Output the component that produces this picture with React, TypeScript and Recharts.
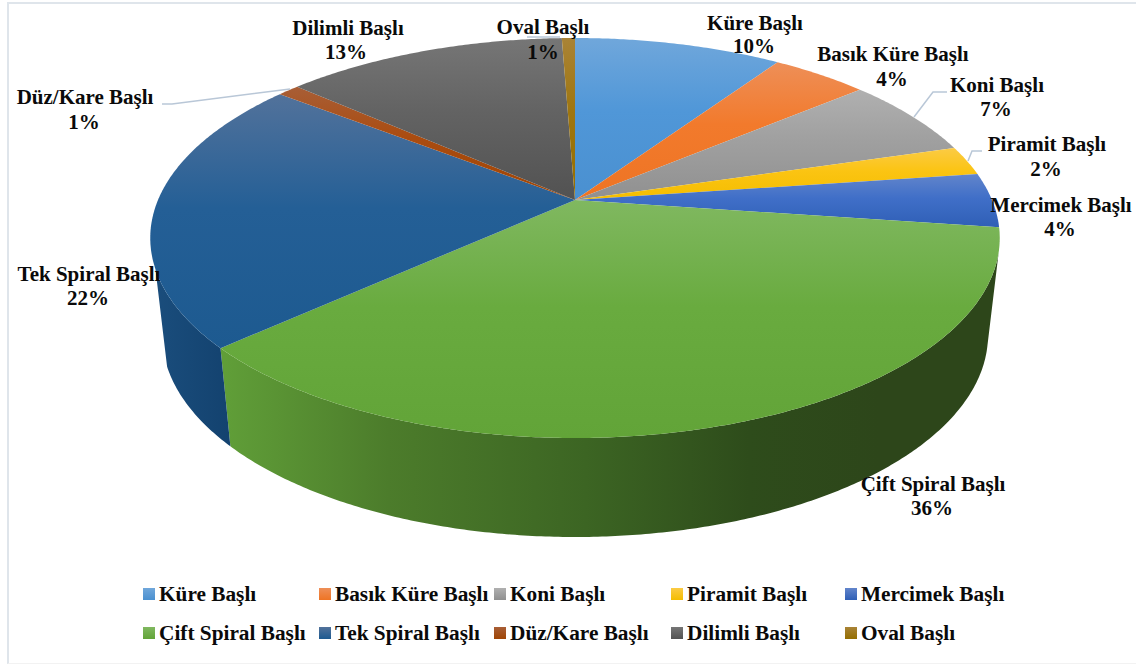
import React from "react";
import { PieChart, Pie, Legend } from "recharts";

const names = [
  "Küre Başlı",
  "Basık Küre Başlı",
  "Koni Başlı",
  "Piramit Başlı",
  "Mercimek Başlı",
  "Çift Spiral Başlı",
  "Tek Spiral Başlı",
  "Düz/Kare Başlı",
  "Dilimli Başlı",
  "Oval Başlı",
];
const values = [9.5, 4.4, 6.5, 2.4, 4.4, 36.1, 22.2, 1, 12.9, 0.6];

// light edge / body / low end of each slice's top face
const topColors = [
  ["#70a7db", "#5097d8", "#4a90d0"],
  ["#ee8f58", "#f27a2c", "#ee7424"],
  ["#b0b0b0", "#a0a0a0", "#909090"],
  ["#fbcb45", "#fbc412", "#f4bd00"],
  ["#6285cb", "#406fc8", "#2f5fb6"],
  ["#80b860", "#69ab3f", "#62a438"],
  ["#52729b", "#245f96", "#1d5a90"],
  ["#a85e36", "#aa4c10", "#a04504"],
  ["#767676", "#636363", "#525252"],
  ["#a98336", "#9f7610", "#946e00"],
];

const pieData = names.map((name, i) => ({ name, value: values[i] }));

// where each two line label sits: name x, name y, percent x, percent y
const labelSpots = [
  [755, 23, 754, 46],
  [893, 54, 892, 79],
  [997, 85, 996, 109],
  [1047, 144, 1046, 169],
  [1061, 205, 1060, 229],
  [933, 484, 932, 508],
  [89, 274, 88, 298],
  [85, 97, 84, 122],
  [348, 28, 346, 52],
  [543, 27, 543, 52],
];

const leaderLines = [
  "162,104 172,104 290,89",
  "947,92 933,92 914,117",
  "982,151 972,151 968,161",
  "527,37 560,37",
];

const legendCols = [143, 319, 494, 671, 845];
const legendRows = [588, 627];

const FONT = "'Liberation Serif', serif";
const CX = 575;
const CY = 200;
const RADIUS = 417;

// perspective squash of the flat pie circle
const TILT = -0.19;
const SQUASH = 0.4623;
// ellipse of the top rim and of the bottom rim
const TOP_RIM = { cy: 238, rx: 425, ry: 200 };
const LOW_RIM = { cy: 335, rx: 413, ry: 202 };

const project = (cx: number, cy: number, r: number, deg: number) => {
  const t = ((90 - deg) * Math.PI) / 180;
  const u = Math.sin(t);
  const v = -Math.cos(t);
  const w = 1 + TILT * v;
  return { x: cx + (r * u) / w, y: cy + (r * SQUASH * v) / w };
};

const SliceShape = (props: any) => {
  const { cx, cy, outerRadius, startAngle, endAngle, name } = props;
  const idx = names.indexOf(name);
  const rim: { x: number; y: number }[] = [];
  const steps = Math.max(2, Math.ceil(Math.abs(endAngle - startAngle) * 2));
  for (let s = 0; s <= steps; s++) {
    rim.push(project(cx, cy, outerRadius, startAngle + ((endAngle - startAngle) * s) / steps));
  }
  const top = `M${cx},${cy} ` + rim.map((p) => `L${p.x},${p.y}`).join(" ") + " Z";

  // side wall only on the front of the rim
  const front = rim
    .map((p) => ({
      ...p,
      e: Math.atan2((p.y - TOP_RIM.cy) / TOP_RIM.ry, (p.x - cx) / TOP_RIM.rx),
    }))
    .filter((p) => p.e > 0.05 && p.e < Math.PI - 0.15);
  let wall = "";
  if (front.length > 1) {
    const low = front
      .slice()
      .reverse()
      .map((p) => `L${cx + LOW_RIM.rx * Math.cos(p.e)},${LOW_RIM.cy + LOW_RIM.ry * Math.sin(p.e)}`);
    wall =
      "M" + front.map((p) => `${p.x},${p.y}`).join(" L") + " " + low.join(" ") + " Z";
  }

  return (
    <g>
      {wall && <path d={wall} fill={idx === 5 ? "url(#wallGreen)" : "url(#wallBlue)"} />}
      <path d={top} fill={`url(#top${idx})`} />
    </g>
  );
};

const SliceLabel = (props: any) => {
  const idx = names.indexOf(props.name);
  const [x1, y1, x2, y2] = labelSpots[idx];
  const common = {
    textAnchor: "middle" as const,
    dominantBaseline: "central" as const,
    fontFamily: FONT,
    fontWeight: "bold",
    fontSize: 21,
    fill: "#0a0a0a",
  };
  return (
    <g>
      <text x={x1} y={y1} {...common}>
        {names[idx]}
      </text>
      <text x={x2} y={y2} {...common}>
        {`${Math.round(values[idx])}%`}
      </text>
    </g>
  );
};

const renderLegend = () => (
  <div style={{ position: "relative", width: 1136, height: 664 }}>
    {names.map((name, i) => {
      const left = legendCols[i % 5];
      const top = legendRows[Math.floor(i / 5)];
      const c = topColors[i];
      return (
        <div key={name}>
          <div
            style={{
              position: "absolute",
              left,
              top,
              width: 12,
              height: 12,
              background: `linear-gradient(${c[0]}, ${c[2]})`,
            }}
          />
          <div
            style={{
              position: "absolute",
              left: left + 16,
              top: top - 6,
              lineHeight: "24px",
              fontFamily: FONT,
              fontWeight: "bold",
              fontSize: 21.3,
              color: "#0a0a0a",
              whiteSpace: "nowrap",
            }}
          >
            {name}
          </div>
        </div>
      );
    })}
  </div>
);

export default function App() {
  return (
    <div
      style={{
        position: "absolute",
        left: 0,
        top: 0,
        width: 1136,
        height: 664,
        background: "#fff",
        overflow: "hidden",
      }}
    >
      <div
        style={{
          position: "absolute",
          left: 7,
          top: 2,
          width: 1129,
          height: 659,
          borderTop: "2px solid #dfe5eb",
          borderLeft: "2px solid #dfe5eb",
          borderBottom: "1px solid #f2f2f2",
        }}
      />
      <PieChart width={1136} height={664} margin={{ top: 0, right: 0, bottom: 0, left: 0 }}>
        <defs>
          {topColors.map((c, i) => (
            <linearGradient key={i} id={`top${i}`} x1="0" y1="0" x2="0" y2="1">
              <stop offset="0%" stopColor={c[0]} />
              <stop offset="45%" stopColor={c[1]} />
              <stop offset="100%" stopColor={c[2]} />
            </linearGradient>
          ))}
          <linearGradient id="wallGreen" gradientUnits="userSpaceOnUse" x1="225" y1="0" x2="880" y2="0">
            <stop offset="0%" stopColor="#609e38" />
            <stop offset="25%" stopColor="#4c7c2b" />
            <stop offset="55%" stopColor="#3c6523" />
            <stop offset="80%" stopColor="#2e4c1b" />
            <stop offset="100%" stopColor="#2d461a" />
          </linearGradient>
          <linearGradient id="wallBlue" gradientUnits="userSpaceOnUse" x1="155" y1="0" x2="230" y2="0">
            <stop offset="0%" stopColor="#1a4d7c" />
            <stop offset="100%" stopColor="#13426f" />
          </linearGradient>
        </defs>
        {leaderLines.map((pts) => (
          <polyline key={pts} points={pts} fill="none" stroke="#b9c7d7" strokeWidth={1.5} />
        ))}
        <Pie
          data={pieData}
          dataKey="value"
          nameKey="name"
          cx={CX}
          cy={CY}
          innerRadius={0}
          outerRadius={RADIUS}
          startAngle={90}
          endAngle={-270}
          stroke="none"
          isAnimationActive={false}
          shape={SliceShape}
          label={SliceLabel}
          labelLine={false}
        />
        <Legend
          content={renderLegend}
          wrapperStyle={{ position: "absolute", left: 0, top: 0, width: 1136, height: 0 }}
        />
      </PieChart>
    </div>
  );
}
